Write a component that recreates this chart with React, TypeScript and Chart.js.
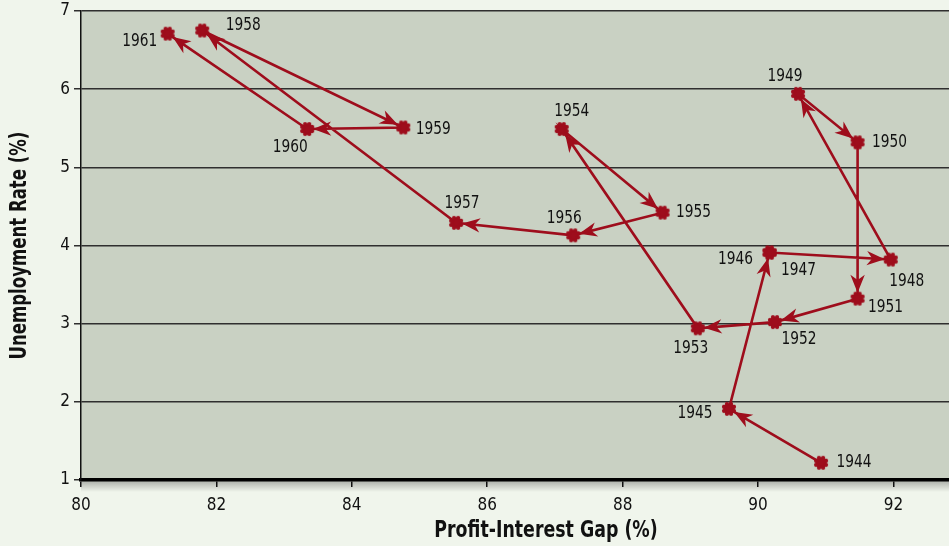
import React, { useEffect, useRef } from 'react';
import { Chart, registerables } from 'chart.js';

Chart.register(...registerables);

const YEARS = ['1944', '1945', '1946', '1947', '1948', '1949', '1950', '1951', '1952', '1953', '1954', '1955', '1956', '1957', '1958', '1959', '1960', '1961'];
const PROFIT_INTEREST_GAP = [90.93, 89.57, 90.17, 90.17, 91.96, 90.59, 91.47, 91.47, 90.25, 89.11, 87.10, 88.59, 87.27, 85.54, 81.79, 84.76, 83.34, 81.28];
const UNEMPLOYMENT = [1.22, 1.91, 3.91, 3.91, 3.82, 5.94, 5.32, 3.32, 3.02, 2.94, 5.49, 4.42, 4.13, 4.29, 6.75, 5.51, 5.49, 6.71];
const X_TICKS = [80, 82, 84, 86, 88, 90, 92];
const Y_TICKS = [1, 2, 3, 4, 5, 6, 7];
const X_TITLE = 'Profit-Interest Gap (%)';
const Y_TITLE = 'Unemployment Rate (%)';

// label placement (pixel offsets of label centre from its point)
const LABEL_DX = [33, -34, -34, 29, 16, -13, 32, 28, 24, -7, 10, 31, -9, 6, 41, 30, -17, -28];
const LABEL_DY = [0, 4, 7, 18, 22, -18, 0, 9, 17, 20, -18, 0, -17, -20, -5, 2, 18, 8];

const RED = '#9e0d1c';
const PAGE_BG = '#f0f5ec';
const PLOT_BG = '#c9d1c3';
const FONT = '"DejaVu Sans Condensed", "DejaVu Sans", sans-serif';

function makeMarker(): HTMLCanvasElement {
  const c = document.createElement('canvas');
  c.width = 18;
  c.height = 18;
  const g = c.getContext('2d')!;
  g.fillStyle = RED;
  g.beginPath();
  g.arc(9, 9, 5.6, 0, Math.PI * 2);
  g.fill();
  for (let i = 0; i < 8; i++) {
    const a = (i * Math.PI) / 4 + Math.PI / 8;
    g.beginPath();
    g.arc(9 + 5.4 * Math.cos(a), 9 + 5.4 * Math.sin(a), 2.1, 0, Math.PI * 2);
    g.fill();
  }
  return c;
}

function squeezedText(ctx: CanvasRenderingContext2D, text: string, x: number, y: number, sx: number, rot = 0) {
  ctx.save();
  ctx.translate(x, y);
  if (rot) ctx.rotate(rot);
  ctx.scale(sx, 1);
  ctx.fillText(text, 0, 0);
  ctx.restore();
}

const bgPlugin = {
  id: 'bgPlugin',
  beforeDraw(chart: any) {
    const { ctx, chartArea: ca, width, height } = chart;
    ctx.save();
    ctx.fillStyle = PAGE_BG;
    ctx.fillRect(0, 0, width, height);
    ctx.fillStyle = PLOT_BG;
    ctx.fillRect(ca.left, ca.top, ca.right - ca.left, ca.bottom - ca.top);
    const grad = ctx.createLinearGradient(0, ca.bottom + 1, 0, ca.bottom + 12);
    grad.addColorStop(0, 'rgba(0,0,0,0.28)');
    grad.addColorStop(1, 'rgba(0,0,0,0)');
    ctx.fillStyle = grad;
    ctx.fillRect(ca.left, ca.bottom + 1, ca.right - ca.left, 11);
    ctx.restore();
  },
};

const arrowPlugin = {
  id: 'arrowPlugin',
  afterDatasetsDraw(chart: any) {
    const { ctx } = chart;
    const pts = chart.getDatasetMeta(0).data;
    ctx.save();
    ctx.fillStyle = RED;
    for (let i = 1; i < pts.length; i++) {
      const a = pts[i - 1];
      const b = pts[i];
      const dx = b.x - a.x;
      const dy = b.y - a.y;
      const len = Math.hypot(dx, dy);
      if (len < 2) continue;
      const ux = dx / len;
      const uy = dy / len;
      const tx = b.x - ux * 6;
      const ty = b.y - uy * 6;
      const hl = 18;
      const hw = 7.2;
      ctx.beginPath();
      ctx.moveTo(tx, ty);
      ctx.lineTo(tx - ux * hl - uy * hw, ty - uy * hl + ux * hw);
      ctx.lineTo(tx - ux * hl * 0.7, ty - uy * hl * 0.7);
      ctx.lineTo(tx - ux * hl + uy * hw, ty - uy * hl - ux * hw);
      ctx.closePath();
      ctx.fill();
    }
    ctx.restore();
  },
};

const labelPlugin = {
  id: 'labelPlugin',
  afterDatasetsDraw(chart: any) {
    const { ctx } = chart;
    const pts = chart.getDatasetMeta(0).data;
    ctx.save();
    ctx.fillStyle = '#111';
    ctx.font = `18px ${FONT}`;
    ctx.textAlign = 'center';
    ctx.textBaseline = 'middle';
    pts.forEach((p: any, i: number) => {
      squeezedText(ctx, YEARS[i], p.x + LABEL_DX[i], p.y + LABEL_DY[i], 0.85);
    });
    ctx.restore();
  },
};

const titlePlugin = {
  id: 'titlePlugin',
  afterDraw(chart: any) {
    const { ctx, chartArea: ca } = chart;
    ctx.save();
    ctx.fillStyle = '#111';
    ctx.font = `bold 23px ${FONT}`;
    ctx.textAlign = 'center';
    ctx.textBaseline = 'middle';
    squeezedText(ctx, X_TITLE, 546, 531, 0.84);
    squeezedText(ctx, Y_TITLE, 20, (ca.top + ca.bottom) / 2, 0.8, -Math.PI / 2);
    ctx.restore();
  },
};

export default function App() {
  const ref = useRef<HTMLCanvasElement>(null);
  useEffect(() => {
    if (!ref.current) return;
    const marker = makeMarker();
    const chart = new Chart(ref.current, {
      type: 'scatter',
      data: {
        datasets: [
          {
            data: PROFIT_INTEREST_GAP.map((x, i) => ({ x, y: UNEMPLOYMENT[i] })),
            showLine: true,
            borderColor: RED,
            borderWidth: 2.6,
            backgroundColor: RED,
            pointStyle: marker as any,
            pointRadius: 9,
            tension: 0,
          },
        ],
      },
      options: {
        animation: false,
        responsive: false,
        layout: { autoPadding: false, padding: { top: 11, right: 0, left: 0, bottom: 0 } },
        plugins: { legend: { display: false }, tooltip: { enabled: false } },
        scales: {
          x: {
            type: 'linear',
            min: 80,
            max: 92.82,
            afterBuildTicks: (s: any) => {
              s.ticks = X_TICKS.map((v) => ({ value: v }));
            },
            afterFit: (s: any) => {
              s.height = 66;
              s.paddingLeft = 0;
              s.paddingRight = 0;
            },
            ticks: { color: '#111', font: { family: FONT, size: 17 }, padding: 8, maxRotation: 0 },
            grid: { drawOnChartArea: false, drawTicks: true, tickLength: 7, color: '#111', lineWidth: 1.5 },
            border: { color: '#000', width: 3.5 },
          },
          y: {
            type: 'linear',
            min: 1,
            max: 7,
            afterBuildTicks: (s: any) => {
              s.ticks = Y_TICKS.map((v) => ({ value: v }));
            },
            afterFit: (s: any) => {
              s.width = 81;
              s.paddingTop = 0;
              s.paddingBottom = 0;
            },
            ticks: { color: '#111', font: { family: FONT, size: 17 }, padding: 4 },
            grid: { color: '#2f2f2f', lineWidth: 1.5, tickLength: 7 },
            border: { color: '#111', width: 1.5 },
          },
        },
      },
      plugins: [bgPlugin, arrowPlugin, labelPlugin, titlePlugin],
    });
    return () => chart.destroy();
  }, []);
  return (
    <div style={{ position: 'absolute', left: 0, top: 0, width: 949, height: 546 }}>
      <canvas ref={ref} width={949} height={546} />
    </div>
  );
}
